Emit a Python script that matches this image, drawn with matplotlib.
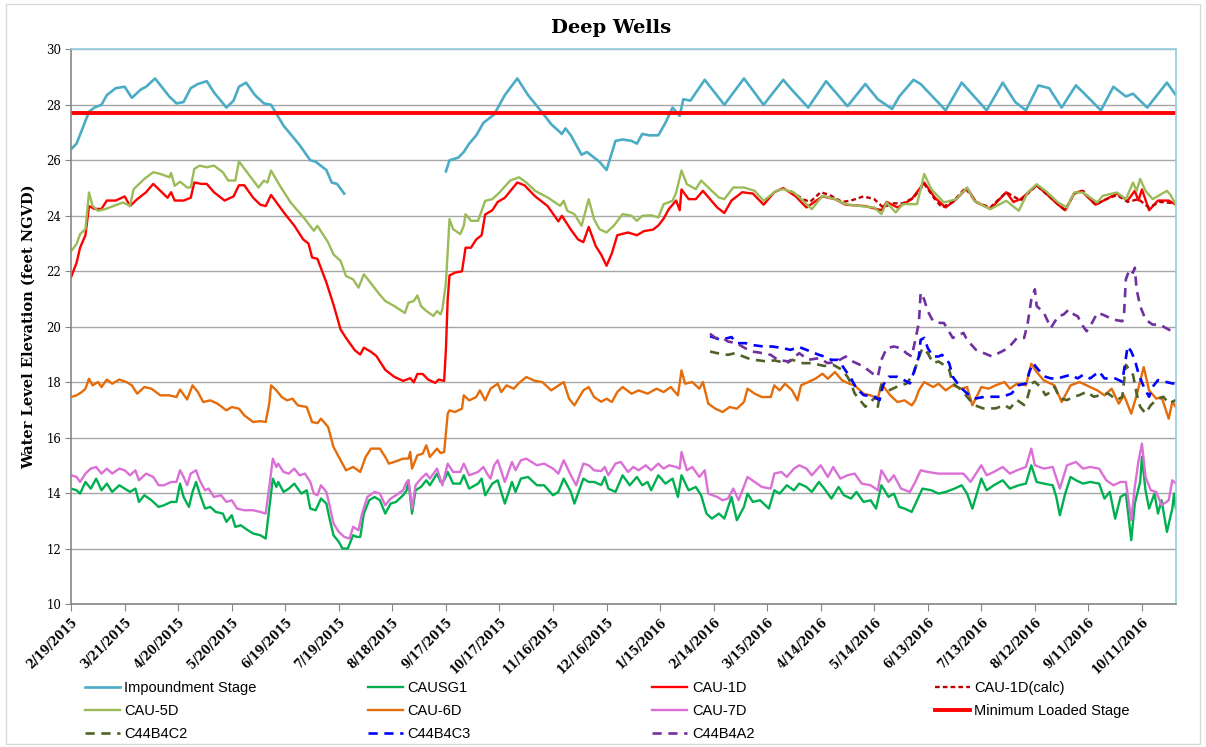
import datetime as dt
import numpy as np
import matplotlib
matplotlib.use('Agg')
import matplotlib.pyplot as plt
from matplotlib.patches import Rectangle

# day offsets from 2/19/2015, water level (feet NGVD)
start = dt.date(2015, 2, 19)
x_end = 619

impoundment = [(0, 26.4), (3, 26.6), (7, 27.25), (10, 27.75), (13, 27.9), (17, 28.0), (20, 28.35), (25, 28.6),
               (30, 28.65), (34, 28.25), (39, 28.55), (42, 28.65), (47, 28.95), (55, 28.3), (59, 28.05), (63, 28.1),
               (67, 28.6), (71, 28.75), (76, 28.85), (80, 28.45), (87, 27.9), (91, 28.15), (94, 28.65), (98, 28.8),
               (103, 28.35), (108, 28.05), (112, 28.0), (119, 27.25), (128, 26.55), (134, 26.0), (137, 25.95),
               (143, 25.65), (146, 25.2), (149, 25.15), (153, 24.8), (180, np.nan),
               (210, 25.6), (212, 26.0), (217, 26.1), (220, 26.3), (223, 26.6), (227, 26.9), (231, 27.35), (237, 27.65),
               (243, 28.35), (250, 28.95), (256, 28.35), (263, 27.8), (269, 27.3), (275, 26.95), (277, 27.15),
               (280, 26.9), (286, 26.2), (289, 26.3), (296, 25.95), (300, 25.65), (305, 26.7), (309, 26.75),
               (314, 26.7), (317, 26.6), (320, 26.95), (324, 26.9), (329, 26.9), (333, 27.35), (337, 27.9),
               (341, 27.6), (343, 28.2), (347, 28.15), (355, 28.9), (366, 28.0), (377, 28.95), (388, 28.0),
               (399, 28.9), (403, 28.6), (413, 27.9), (423, 28.85), (435, 27.95), (445, 28.75), (452, 28.2),
               (460, 27.85), (464, 28.3), (472, 28.9), (476, 28.75), (490, 27.8), (499, 28.8), (513, 27.8),
               (522, 28.8), (529, 28.1), (535, 27.8), (542, 28.7), (548, 28.6), (555, 27.9), (563, 28.7),
               (567, 28.45), (577, 27.8), (584, 28.65), (591, 28.3), (595, 28.4), (603, 27.9), (614, 28.8), (619, 28.35)]

causg1 = [(0, 14.17), (3, 14.11), (5, 13.99), (8, 14.41), (11, 14.17), (14, 14.53), (17, 14.11), (20, 14.35),
          (23, 14.05), (27, 14.29), (30, 14.17), (33, 14.05), (36, 14.17), (38, 13.69), (41, 13.93), (45, 13.75),
          (49, 13.51), (52, 13.57), (56, 13.69), (59, 13.69), (61, 14.35), (63, 13.87), (66, 13.51), (68, 14.05),
          (70, 14.41), (72, 13.99), (75, 13.45), (78, 13.51), (81, 13.33), (85, 13.27), (87, 12.97), (90, 13.21),
          (92, 12.79), (95, 12.85), (99, 12.67), (102, 12.55), (106, 12.49), (109, 12.37), (111, 13.45),
          (113, 14.53), (115, 14.23), (116, 14.41), (119, 14.05), (122, 14.17), (125, 14.35), (129, 13.99),
          (132, 14.11), (134, 13.45), (137, 13.39), (140, 13.81), (143, 13.63), (145, 13.03), (147, 12.49),
          (150, 12.25), (152, 12.01), (155, 12.01), (158, 12.49), (160, 12.43), (162, 12.43), (164, 13.27),
          (167, 13.75), (170, 13.87), (173, 13.75), (176, 13.27), (179, 13.63), (182, 13.69), (186, 13.93),
          (188, 14.11), (189, 14.47), (191, 13.27), (193, 14.11), (196, 14.23), (199, 14.47), (201, 14.29),
          (205, 14.71), (207, 14.41), (209, 14.47), (211, 14.77), (214, 14.35), (218, 14.35), (220, 14.65),
          (223, 14.17), (228, 14.35), (230, 14.53), (232, 13.93), (236, 14.35), (239, 14.47), (243, 13.63),
          (247, 14.41), (249, 14.05), (252, 14.53), (256, 14.59), (261, 14.29), (265, 14.29), (270, 13.93),
          (273, 14.05), (276, 14.53), (280, 14.05), (282, 13.63), (287, 14.53), (290, 14.41), (293, 14.41),
          (297, 14.3), (299, 14.59), (301, 14.17), (305, 14.05), (309, 14.65), (313, 14.29), (317, 14.59),
          (320, 14.29), (323, 14.41), (325, 14.11), (329, 14.65), (333, 14.35), (337, 14.53), (340, 13.87),
          (342, 14.65), (346, 14.11), (350, 14.23), (353, 13.93), (356, 13.27), (359, 13.09), (363, 13.27),
          (366, 13.09), (370, 13.87), (373, 13.03), (377, 13.51), (379, 13.99), (382, 13.69), (386, 13.75),
          (391, 13.45), (394, 14.11), (397, 13.99), (401, 14.29), (405, 14.11), (408, 14.35), (412, 14.23),
          (415, 14.05), (419, 14.41), (422, 14.17), (426, 13.81), (430, 14.23), (433, 13.93), (437, 13.81),
          (440, 14.05), (444, 13.69), (448, 13.75), (451, 13.45), (454, 14.29), (458, 13.87), (461, 13.99),
          (464, 13.51), (467, 13.45), (471, 13.33), (474, 13.75), (477, 14.17), (482, 14.11), (486, 13.99),
          (490, 14.05), (495, 14.17), (499, 14.29), (502, 13.99), (505, 13.45), (510, 14.53), (513, 14.11),
          (517, 14.29), (522, 14.47), (526, 14.17), (531, 14.29), (535, 14.35), (538, 15.01), (541, 14.41),
          (545, 14.35), (550, 14.29), (552, 13.87), (554, 13.21), (557, 13.99), (560, 14.59), (563, 14.47),
          (567, 14.35), (571, 14.41), (576, 14.35), (579, 13.81), (582, 14.05), (585, 13.09), (588, 13.87),
          (591, 13.99), (594, 12.31), (596, 13.63), (599, 14.41), (600, 15.31), (602, 14.11), (604, 13.45),
          (607, 13.99), (609, 13.27), (611, 13.75), (614, 12.61), (617, 13.45), (618, 13.99), (619, 13.45)]

cau1d = [(0, 21.8), (3, 22.3), (5, 22.85), (8, 23.3), (10, 24.35), (13, 24.25), (17, 24.25), (20, 24.55),
         (25, 24.55), (30, 24.7), (33, 24.35), (37, 24.6), (42, 24.85), (46, 25.15), (50, 24.9), (54, 24.65),
         (56, 24.85), (58, 24.55), (63, 24.55), (67, 24.65), (69, 25.2), (73, 25.15), (76, 25.15), (80, 24.85),
         (86, 24.55), (91, 24.7), (94, 25.1), (97, 25.1), (102, 24.65), (106, 24.4), (109, 24.35), (112, 24.75),
         (116, 24.4), (120, 24.05), (125, 23.65), (130, 23.15), (133, 23.0), (135, 22.5), (138, 22.45),
         (143, 21.6), (147, 20.8), (151, 19.9), (154, 19.6), (159, 19.15), (162, 19.0), (164, 19.25),
         (168, 19.1), (171, 18.95), (176, 18.45), (181, 18.2), (186, 18.05), (190, 18.15), (192, 18.0),
         (194, 18.3), (197, 18.3), (200, 18.1), (204, 17.98), (206, 18.1), (209, 18.05), (210, 19.2),
         (211, 21.0), (212, 21.85), (215, 21.95), (219, 22.0), (221, 22.85), (224, 22.85), (227, 23.15),
         (230, 23.3), (232, 24.05), (236, 24.2), (239, 24.5), (243, 24.65), (250, 25.2), (254, 25.1),
         (260, 24.7), (267, 24.35), (273, 23.8), (275, 24.0), (280, 23.5), (284, 23.15), (287, 23.05),
         (290, 23.6), (294, 22.9), (297, 22.6), (300, 22.2), (303, 22.65), (306, 23.3), (312, 23.4),
         (317, 23.3), (321, 23.45), (326, 23.5), (329, 23.65), (332, 23.9), (335, 24.25), (339, 24.55),
         (341, 24.2), (342, 24.95), (346, 24.6), (350, 24.6), (354, 24.9), (358, 24.6), (362, 24.3),
         (366, 24.1), (370, 24.55), (376, 24.85), (382, 24.8), (388, 24.4), (394, 24.85), (399, 25.0),
         (406, 24.7), (412, 24.3), (421, 24.7), (428, 24.6), (434, 24.4), (445, 24.35), (454, 24.2),
         (457, 24.5), (463, 24.3), (471, 24.6), (478, 25.2), (484, 24.65), (490, 24.3), (496, 24.6),
         (502, 25.0), (507, 24.5), (515, 24.25), (524, 24.85), (528, 24.5), (532, 24.6), (541, 25.1),
         (548, 24.7), (553, 24.4), (557, 24.2), (562, 24.8), (566, 24.9), (574, 24.4), (580, 24.6),
         (586, 24.8), (592, 24.55), (596, 24.9), (598, 24.55), (600, 24.95), (604, 24.2), (609, 24.55),
         (615, 24.55), (619, 24.4)]

cau1d_calc = [(403, 24.9), (410, 24.6), (414, 24.5), (420, 24.85), (425, 24.75), (432, 24.5), (437, 24.55),
              (444, 24.7), (450, 24.6), (455, 24.3), (460, 24.45), (466, 24.45), (472, 24.65), (478, 25.15),
              (484, 24.6), (488, 24.3), (494, 24.5), (501, 25.0), (507, 24.5), (515, 24.3), (524, 24.85),
              (532, 24.55), (541, 25.1), (548, 24.7), (557, 24.2), (562, 24.8), (567, 24.9), (574, 24.4),
              (580, 24.6), (586, 24.75), (592, 24.5), (598, 24.6), (604, 24.3), (610, 24.5), (619, 24.45)]

cau5d = [(0, 22.73), (3, 22.98), (5, 23.34), (8, 23.52), (10, 24.84), (12, 24.36), (15, 24.18), (19, 24.24),
         (24, 24.36), (29, 24.48), (33, 24.36), (35, 24.96), (41, 25.33), (46, 25.57), (50, 25.51), (55, 25.39),
         (56, 25.54), (58, 25.08), (61, 25.23), (65, 25.02), (67, 25.02), (69, 25.69), (72, 25.81), (76, 25.75),
         (80, 25.81), (85, 25.57), (88, 25.27), (92, 25.27), (94, 25.96), (100, 25.45), (105, 25.02),
         (108, 25.27), (110, 25.2), (112, 25.63), (117, 25.08), (123, 24.48), (131, 23.88), (136, 23.46),
         (138, 23.64), (144, 23.04), (147, 22.61), (151, 22.37), (154, 21.83), (158, 21.71), (161, 21.41),
         (164, 21.89), (167, 21.65), (172, 21.23), (176, 20.93), (181, 20.75), (187, 20.5), (189, 20.87),
         (192, 20.93), (194, 21.13), (196, 20.75), (199, 20.57), (203, 20.39), (205, 20.57), (207, 20.45),
         (208, 20.63), (210, 21.59), (212, 23.88), (214, 23.52), (218, 23.34), (220, 23.64), (221, 24.06),
         (224, 23.82), (228, 23.82), (229, 24.0), (232, 24.54), (236, 24.6), (240, 24.84), (246, 25.27),
         (251, 25.39), (255, 25.2), (260, 24.9), (267, 24.66), (274, 24.36), (276, 24.54), (278, 24.18),
         (282, 24.06), (286, 23.64), (290, 24.6), (293, 23.88), (296, 23.52), (300, 23.4), (304, 23.64),
         (309, 24.06), (314, 24.0), (317, 23.82), (320, 24.0), (325, 24.02), (329, 23.94), (332, 24.42),
         (337, 24.54), (339, 24.84), (342, 25.63), (345, 25.14), (350, 24.96), (353, 25.27), (358, 24.96),
         (363, 24.66), (366, 24.6), (371, 25.02), (377, 25.02), (383, 24.9), (388, 24.54), (395, 24.9),
         (399, 24.96), (405, 24.84), (410, 24.54), (415, 24.24), (421, 24.72), (428, 24.6), (434, 24.42),
         (441, 24.36), (450, 24.3), (454, 24.06), (457, 24.48), (462, 24.12), (466, 24.42), (474, 24.42),
         (478, 25.51), (482, 24.96), (489, 24.48), (496, 24.6), (502, 25.02), (506, 24.54), (515, 24.24),
         (524, 24.54), (531, 24.18), (536, 24.84), (541, 25.14), (546, 24.9), (553, 24.48), (558, 24.3),
         (562, 24.84), (567, 24.84), (575, 24.48), (578, 24.72), (586, 24.84), (591, 24.6), (595, 25.2),
         (597, 24.9), (599, 25.33), (602, 24.9), (606, 24.6), (614, 24.9), (616, 24.75), (619, 24.4)]

cau6d = [(0, 17.47), (3, 17.53), (6, 17.65), (8, 17.77), (10, 18.13), (12, 17.89), (15, 18.01), (17, 17.83),
         (20, 18.1), (23, 17.95), (27, 18.1), (31, 18.01), (34, 17.89), (37, 17.59), (41, 17.83), (45, 17.77),
         (50, 17.53), (55, 17.53), (59, 17.47), (61, 17.74), (65, 17.38), (68, 17.89), (71, 17.65), (74, 17.29),
         (78, 17.35), (82, 17.23), (87, 16.99), (90, 17.11), (94, 17.05), (97, 16.81), (102, 16.57),
         (106, 16.6), (109, 16.57), (111, 17.23), (112, 17.89), (115, 17.71), (118, 17.47), (121, 17.35),
         (124, 17.41), (127, 17.17), (132, 17.11), (135, 16.57), (138, 16.53), (140, 16.69), (144, 16.39),
         (147, 15.67), (151, 15.19), (154, 14.83), (158, 14.95), (162, 14.77), (165, 15.31), (168, 15.61),
         (173, 15.61), (176, 15.31), (178, 15.07), (181, 15.13), (186, 15.25), (189, 15.25), (190, 15.49),
         (191, 14.89), (194, 15.37), (197, 15.43), (199, 15.73), (201, 15.31), (205, 15.61), (207, 15.45),
         (209, 15.49), (211, 16.87), (212, 16.99), (215, 16.93), (219, 17.05), (220, 17.53), (223, 17.35),
         (227, 17.47), (229, 17.71), (232, 17.35), (235, 17.77), (239, 17.95), (241, 17.65), (244, 17.89),
         (248, 17.77), (251, 17.98), (255, 18.19), (260, 18.05), (264, 18.01), (269, 17.71), (276, 18.01),
         (279, 17.41), (282, 17.17), (287, 17.71), (290, 17.83), (293, 17.47), (297, 17.3), (300, 17.41),
         (303, 17.29), (306, 17.65), (309, 17.83), (314, 17.59), (318, 17.71), (323, 17.59), (328, 17.77),
         (332, 17.65), (336, 17.83), (340, 17.53), (342, 18.43), (344, 17.95), (348, 18.01), (352, 17.77),
         (354, 18.01), (357, 17.23), (361, 17.05), (365, 16.93), (369, 17.11), (373, 17.05), (377, 17.29),
         (379, 17.77), (383, 17.59), (387, 17.47), (392, 17.47), (394, 17.89), (397, 17.71), (400, 17.95),
         (404, 17.71), (407, 17.35), (409, 17.89), (413, 18.01), (417, 18.13), (421, 18.31), (424, 18.13),
         (428, 18.37), (432, 18.07), (436, 17.95), (439, 17.89), (444, 17.59), (448, 17.53), (452, 17.41),
         (454, 17.95), (459, 17.53), (463, 17.29), (467, 17.35), (471, 17.17), (473, 17.35), (475, 17.71),
         (478, 18.01), (483, 17.83), (486, 17.95), (490, 17.71), (494, 17.89), (499, 17.77), (502, 17.83),
         (505, 17.17), (510, 17.83), (514, 17.77), (518, 17.89), (523, 18.01), (526, 17.77), (530, 17.95),
         (535, 17.89), (538, 18.67), (541, 18.37), (545, 18.07), (551, 17.89), (555, 17.29), (560, 17.89),
         (565, 18.01), (569, 17.89), (575, 17.71), (579, 17.53), (583, 17.77), (587, 17.23), (590, 17.53),
         (594, 16.87), (597, 17.53), (601, 18.55), (604, 17.71), (608, 17.41), (611, 17.47), (615, 16.69),
         (617, 17.29), (619, 17.11)]

cau7d = [(0, 14.65), (3, 14.59), (5, 14.41), (8, 14.71), (11, 14.89), (14, 14.95), (17, 14.71), (20, 14.89),
         (23, 14.71), (27, 14.89), (30, 14.83), (33, 14.65), (36, 14.83), (38, 14.47), (42, 14.71), (46, 14.59),
         (49, 14.29), (52, 14.29), (56, 14.41), (59, 14.41), (61, 14.83), (63, 14.59), (65, 14.29), (67, 14.71),
         (70, 14.83), (72, 14.47), (75, 14.11), (77, 14.17), (80, 13.87), (84, 13.93), (87, 13.69), (90, 13.75),
         (93, 13.45), (97, 13.39), (102, 13.39), (106, 13.33), (109, 13.27), (111, 14.23), (113, 15.25),
         (115, 14.95), (116, 15.07), (119, 14.77), (122, 14.71), (125, 14.89), (128, 14.65), (131, 14.71),
         (134, 14.41), (136, 13.99), (138, 13.93), (140, 14.29), (143, 14.05), (145, 13.51), (147, 12.91),
         (150, 12.61), (153, 12.43), (156, 12.37), (158, 12.79), (161, 12.67), (163, 13.27), (166, 13.87),
         (170, 14.05), (173, 13.99), (176, 13.57), (179, 13.81), (182, 13.93), (186, 14.11), (188, 14.41),
         (189, 14.47), (191, 13.45), (193, 14.29), (196, 14.53), (199, 14.71), (201, 14.53), (205, 14.89),
         (208, 14.29), (211, 15.07), (214, 14.77), (218, 14.77), (220, 15.07), (223, 14.65), (228, 14.77),
         (231, 14.95), (233, 14.71), (235, 14.53), (237, 15.01), (239, 15.19), (243, 14.41), (247, 15.13),
         (249, 14.83), (252, 15.19), (255, 15.25), (261, 15.01), (265, 15.07), (270, 14.89), (273, 14.71),
         (276, 15.19), (280, 14.65), (283, 14.29), (287, 15.07), (290, 15.01), (293, 14.83), (297, 14.8),
         (299, 14.95), (301, 14.65), (305, 15.07), (308, 15.13), (312, 14.77), (315, 14.95), (318, 14.83),
         (322, 15.01), (325, 14.83), (329, 15.07), (332, 14.89), (335, 15.01), (339, 14.95), (341, 14.89),
         (342, 15.49), (345, 14.83), (348, 14.95), (352, 14.59), (355, 14.83), (357, 13.99), (362, 13.87),
         (365, 13.75), (368, 13.81), (371, 14.17), (374, 13.75), (379, 14.59), (383, 14.41), (387, 14.23),
         (392, 14.17), (394, 14.71), (398, 14.77), (401, 14.59), (405, 14.89), (408, 15.01), (412, 14.89),
         (415, 14.65), (420, 15.01), (424, 14.59), (427, 14.95), (431, 14.53), (435, 14.65), (439, 14.71),
         (443, 14.35), (448, 14.29), (452, 14.11), (454, 14.83), (458, 14.41), (461, 14.65), (465, 14.17),
         (470, 14.05), (473, 14.41), (476, 14.83), (480, 14.77), (486, 14.71), (491, 14.71), (496, 14.71),
         (500, 14.71), (504, 14.41), (510, 15.01), (513, 14.65), (517, 14.77), (522, 14.95), (526, 14.71),
         (530, 14.83), (535, 14.95), (538, 15.61), (540, 15.01), (545, 14.89), (550, 14.95), (554, 14.17),
         (558, 15.01), (563, 15.13), (567, 14.89), (571, 14.95), (576, 14.89), (580, 14.47), (584, 14.29),
         (588, 14.41), (591, 14.41), (594, 13.03), (596, 14.23), (598, 15.13), (600, 15.79), (602, 14.59),
         (605, 14.11), (608, 14.05), (611, 13.57), (615, 13.75), (617, 14.47), (619, 14.35)]

min_loaded = [(0, 27.7), (619, 27.7)]

c44b4c2 = [(358, 19.11), (362, 19.05), (368, 18.99), (372, 19.05), (379, 18.87), (383, 18.81), (390, 18.75),
           (394, 18.79), (401, 18.69), (404, 18.81), (410, 18.69), (415, 18.69), (422, 18.59), (427, 18.63),
           (432, 18.45), (435, 18.2), (437, 17.96), (439, 17.6), (442, 17.36), (445, 17.12), (448, 17.3),
           (451, 17.48), (452, 17.12), (454, 17.9), (458, 17.7), (463, 17.85), (468, 17.95), (472, 18.3),
           (475, 18.9), (477, 19.23), (480, 19.05), (483, 18.69), (486, 18.75), (489, 18.63), (492, 18.45),
           (494, 17.96), (499, 17.72), (502, 17.48), (506, 17.18), (511, 17.06), (518, 17.06), (523, 17.18),
           (526, 17.06), (530, 17.36), (534, 17.18), (536, 17.48), (538, 17.96), (540, 18.02), (543, 17.84),
           (546, 17.54), (549, 17.66), (551, 17.84), (554, 17.42), (558, 17.36), (562, 17.48), (565, 17.54),
           (569, 17.66), (573, 17.48), (577, 17.54), (581, 17.6), (586, 17.36), (589, 17.48), (591, 18.63),
           (593, 18.45), (595, 18.27), (597, 17.6), (599, 17.12), (602, 16.88), (605, 17.18), (608, 17.36),
           (612, 17.48), (615, 17.24), (619, 17.36)]

c44b4c3 = [(358, 19.66), (364, 19.53), (370, 19.63), (373, 19.41), (378, 19.41), (381, 19.35), (388, 19.29),
           (393, 19.29), (399, 19.23), (403, 19.17), (408, 19.27), (412, 19.17), (419, 18.99), (422, 18.93),
           (426, 18.81), (430, 18.81), (433, 18.51), (437, 18.14), (440, 17.78), (444, 17.54), (450, 17.48),
           (453, 17.36), (455, 17.9), (458, 18.2), (463, 18.2), (465, 18.14), (470, 17.96), (472, 18.33),
           (475, 18.93), (476, 19.53), (478, 19.6), (480, 19.23), (483, 18.93), (486, 18.93), (488, 18.99),
           (492, 18.69), (494, 18.2), (498, 17.84), (502, 17.6), (507, 17.42), (512, 17.48), (519, 17.48),
           (522, 17.48), (527, 17.6), (531, 17.9), (535, 17.96), (537, 18.39), (539, 18.69), (542, 18.45),
           (546, 18.2), (549, 18.14), (553, 18.14), (556, 18.2), (560, 18.27), (564, 18.14), (567, 18.27),
           (571, 18.14), (576, 18.39), (579, 18.14), (585, 18.14), (589, 18.02), (590, 18.45), (592, 19.3),
           (594, 19.11), (596, 18.81), (598, 18.33), (601, 17.84), (604, 17.48), (606, 17.84), (609, 18.08),
           (613, 18.02), (617, 17.96), (619, 17.96)]

c44b4a2 = [(358, 19.75), (361, 19.6), (366, 19.56), (368, 19.47), (373, 19.41), (376, 19.29), (381, 19.11),
           (385, 19.08), (392, 18.99), (396, 18.81), (402, 18.75), (408, 19.05), (413, 18.81), (419, 18.87),
           (424, 18.69), (429, 18.75), (434, 18.93), (438, 18.75), (444, 18.57), (450, 18.27), (452, 18.2),
           (454, 18.81), (457, 19.23), (461, 19.29), (465, 19.23), (468, 19.05), (471, 18.93), (473, 19.53),
           (475, 20.14), (476, 21.23), (478, 20.98), (480, 20.56), (483, 20.2), (487, 20.14), (489, 20.14),
           (494, 19.6), (500, 19.78), (502, 19.53), (507, 19.17), (516, 18.93), (525, 19.23), (530, 19.6),
           (534, 19.6), (536, 20.14), (538, 20.98), (540, 21.35), (541, 20.75), (545, 20.51), (549, 19.96),
           (553, 20.38), (556, 20.44), (559, 20.62), (562, 20.44), (564, 20.38), (567, 20.02), (569, 19.84),
           (572, 20.14), (575, 20.5), (578, 20.44), (584, 20.26), (589, 20.2), (590, 20.5), (591, 21.71),
           (593, 22.07), (595, 21.95), (596, 22.13), (597, 21.35), (599, 20.75), (602, 20.26), (606, 20.08),
           (610, 20.08), (615, 19.9), (619, 19.78)]

# (label, data, color, linewidth, dashes)
series = [
    ('Impoundment Stage', impoundment, '#4BACC6', 1.9, None),
    ('CAUSG1', causg1, '#00B050', 1.7, None),
    ('CAU-1D', cau1d, '#FF0000', 1.7, None),
    ('CAU-1D(calc)', cau1d_calc, '#C00000', 1.7, (2.0, 1.3)),
    ('CAU-5D', cau5d, '#9BBB59', 1.7, None),
    ('CAU-6D', cau6d, '#E46C0A', 1.7, None),
    ('CAU-7D', cau7d, '#DA70D6', 1.7, None),
    ('Minimum Loaded Stage', min_loaded, '#FF0000', 2.8, None),
    ('C44B4C2', c44b4c2, '#4F6228', 1.9, (3.5, 2.5)),
    ('C44B4C3', c44b4c3, '#0000FF', 1.9, (3.5, 2.5)),
    ('C44B4A2', c44b4a2, '#7030A0', 1.9, (3.5, 2.5)),
]

fig = plt.figure(figsize=(12.06, 7.47), dpi=100)
fig.patches.append(Rectangle((0.005, 0.004), 0.99, 0.99, transform=fig.transFigure,
                             fill=False, edgecolor='#D9D9D9', linewidth=1))
ax = fig.add_axes([0.059, 0.191, 0.916, 0.743])

handles = []
for label, data, color, lw, dashes in series:
    d = np.array(data, dtype=float)
    line, = ax.plot(d[:, 0], d[:, 1], color=color, lw=lw, label=label)
    if dashes:
        line.set_dashes(dashes)
    handles.append(line)

ax.set_xlim(0, x_end)
ax.set_ylim(10, 30)
ax.set_yticks(np.arange(10, 31, 2))
ax.yaxis.grid(True, color='#A6A6A6', lw=1)
ax.set_axisbelow(True)

xticks = np.arange(0, 601, 30)
xlabels = []
for t in xticks:
    day = start + dt.timedelta(days=int(t))
    xlabels.append('{}/{}/{}'.format(day.month, day.day, day.year))
ax.set_xticks(xticks)
ax.set_xticklabels(xlabels, rotation=45, ha='right', rotation_mode='anchor',
                   fontsize=8.5, fontweight='bold', family='DejaVu Serif')
for lbl in ax.get_yticklabels():
    lbl.set_family('DejaVu Serif')
    lbl.set_fontsize(8.5)
ax.tick_params(axis='x', direction='out', length=5, color='#868686', pad=3)
ax.tick_params(axis='y', direction='out', length=4, color='#868686', pad=3)

for side in ('left', 'bottom'):
    ax.spines[side].set_color('#868686')
    ax.spines[side].set_linewidth(1.2)
for side in ('top', 'right'):
    ax.spines[side].set_color('#93CDDD')
    ax.spines[side].set_linewidth(1.2)

ax.set_ylabel('Water Level Elevation (feet NGVD)', fontsize=10.5, fontweight='bold',
              family='DejaVu Serif', labelpad=8)
fig.text(0.507, 0.962, 'Deep Wells', ha='center', va='center', fontsize=14,
         fontweight='bold', family='DejaVu Serif')

# legend laid out row-wise like the original: one legend per column
col_x = [0.0705, 0.305, 0.541, 0.775]
for c in range(4):
    hs = handles[c::4]
    fig.legend(hs, [h.get_label() for h in hs], loc='upper left',
               bbox_to_anchor=(col_x[c], 0.088), frameon=False,
               handlelength=2.4, handletextpad=0.3, borderpad=0, borderaxespad=0,
               labelspacing=0.62, prop={'family': 'Liberation Sans', 'size': 10.5})

fig.savefig('out.png', dpi=100)
